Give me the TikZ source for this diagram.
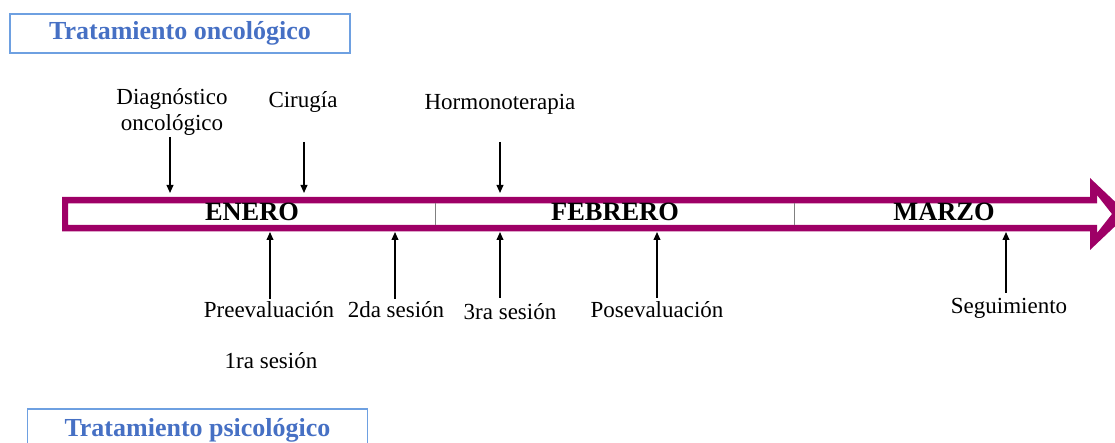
\documentclass[tikz,border=0pt]{standalone}
\usepackage{fontspec}
\setmainfont{Liberation Serif}
\usetikzlibrary{arrows.meta, positioning}
\definecolor{band}{RGB}{158,0,102}
\definecolor{boxline}{RGB}{110,160,225}
\definecolor{boxtext}{RGB}{70,112,196}

\begin{document}
\begin{tikzpicture}[
    x=0.5pt, y=-0.5pt,
    >={Triangle[length=4pt, width=3.4pt]},
    lbl/.style={inner sep=0pt, align=center, font=\fontsize{11.5}{12.8}\selectfont},
    month/.style={inner sep=0pt, font=\fontsize{13.2}{14}\selectfont\bfseries},
    title/.style={draw=boxline, line width=0.8pt, inner sep=0pt, minimum width=170pt,
        text=boxtext, font=\fontsize{13}{14}\selectfont\bfseries},
    pointer/.style={->, line width=0.7pt}
]
    \useasboundingbox (0,0) rectangle (1115,443);

    % boxes
    \node[title, minimum height=19.5pt] (onco) at (180,33.5) {Tratamiento oncológico};
    \node[title, minimum height=21pt] (psico) at (197.5,430) {Tratamiento psicológico};

    % timeline arrow
    \fill[band, even odd rule]
        (62,197) -- (1090,197) -- (1090,178) -- (1128,214) -- (1090,250)
        -- (1090,231.5) -- (62,231.5) -- cycle
        (68,203.5) -- (1097,203.5) -- (1097,195) -- (1112,214) -- (1097,233)
        -- (1097,225) -- (68,225) -- cycle;
    \draw[gray, line width=0.4pt] (435.5,203.5) -- (435.5,225);
    \draw[gray, line width=0.4pt] (794.5,203.5) -- (794.5,225);

    \node[month] (ene) at (252,212) {ENERO};
    \node[month] (feb) at (615,212) {FEBRERO};
    \node[month] (mar) at (944,212) {MARZO};

    % oncological events
    \node[lbl] (diag) at (172,112) {Diagnóstico\\oncológico};
    \node[lbl] (ciru) at (303,102) {Cirugía};
    \node[lbl] (horm) at (500,104) {Hormonoterapia};

    \coordinate (d0) at (170,137);  \coordinate (d1) at (170,193);
    \coordinate (c0) at (304,142);  \coordinate (c1) at (304,193);
    \coordinate (h0) at (500,142);  \coordinate (h1) at (500,193);
    \draw[pointer] (d0) -- (d1);
    \draw[pointer] (c0) -- (c1);
    \draw[pointer] (h0) -- (h1);

    % psychological events
    \node[lbl] (pre) at (269,310) {Preevaluación};
    \node[lbl] (ses2) at (396,310) {2da sesión};
    \node[lbl] (ses3) at (510,312) {3ra sesión};
    \node[lbl] (pos) at (657,310) {Posevaluación};
    \node[lbl] (seg) at (1009,308) {Seguimiento};
    \node[lbl] (ses1) at (271,361) {1ra sesión};

    \coordinate (p0) at (270,299);  \coordinate (p1) at (270,232);
    \coordinate (s0) at (395,299);  \coordinate (s1) at (395,232);
    \coordinate (t0) at (500,298);  \coordinate (t1) at (500,232);
    \coordinate (q0) at (657,298);  \coordinate (q1) at (657,232);
    \coordinate (g0) at (1006,293); \coordinate (g1) at (1006,232);
    \draw[pointer] (p0) -- (p1);
    \draw[pointer] (s0) -- (s1);
    \draw[pointer] (t0) -- (t1);
    \draw[pointer] (q0) -- (q1);
    \draw[pointer] (g0) -- (g1);
\end{tikzpicture}
\end{document}
